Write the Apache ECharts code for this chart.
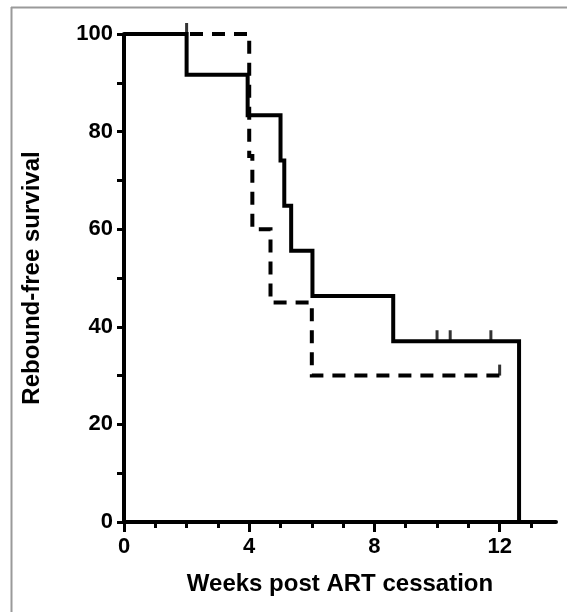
<!DOCTYPE html>
<html>
<head>
<meta charset="utf-8">
<script src="https://cdn.jsdelivr.net/npm/echarts@6/dist/echarts.min.js"></script>
<style>
  html, body { margin: 0; padding: 0; background: #fff; }
  #chart { width: 567px; height: 612px; }
</style>
</head>
<body>
<div id="chart"></div>
<script>
// Kaplan-Meier curves, values
const solidWeeks = [0, 2, 3.95, 5.0, 5.12, 5.34, 6.02, 8.6, 12.62];
const solidSurvival = [100, 91.67, 83.33, 74.07, 64.81, 55.56, 46.3, 37.04, 0];
const dashedWeeks = [0, 4.0, 4.1, 4.68, 6.0, 12.0];
const dashedSurvival = [100, 75, 60, 45, 30, 30];

// censored subjects (little upward ticks)
const solidCensorWeeks = [2, 10.0, 10.42, 11.72];
const solidCensorSurvival = [100, 37.04, 37.04, 37.04];
const dashedCensorWeeks = [12.0];
const dashedCensorSurvival = [30];

const xMajorTicks = [0, 4, 8, 12];
const xMinorTicks = [1, 2, 3, 5, 6, 7, 9, 10, 11, 13];

function pairs(xs, ys) {
  return xs.map((x, i) => [x, ys[i]]);
}

let chart = echarts.init(document.getElementById("chart"));
const font = "'Liberation Sans', Arial, sans-serif";

let option = {
  animation: false,
  grid: { left: 124, right: 11, top: 34, bottom: 90 },
  xAxis: [
    {
      type: "value",
      min: 0,
      max: 13.8,
      splitLine: { show: false },
      axisLine: { show: true, onZero: false, lineStyle: { color: "#000", width: 4 } },
      axisTick: { show: true, customValues: xMinorTicks, length: 6, lineStyle: { color: "#000", width: 3 } },
      axisLabel: {
        customValues: xMajorTicks,
        color: "#000",
        fontFamily: font,
        fontWeight: "bold",
        fontSize: 22,
        margin: 14
      },
      name: "Weeks post ART cessation",
      nameLocation: "middle",
      nameGap: 50,
      nameTextStyle: { color: "#000", fontFamily: font, fontWeight: "bold", fontSize: 24 }
    },
    {
      // longer ticks at the labelled weeks
      type: "value",
      position: "bottom",
      min: 0,
      max: 13.8,
      splitLine: { show: false },
      axisLine: { show: false },
      axisLabel: { show: false },
      axisTick: { show: true, customValues: xMajorTicks, length: 10, lineStyle: { color: "#000", width: 3 } }
    }
  ],
  yAxis: {
    type: "value",
    min: 0,
    max: 100,
    interval: 20,
    splitLine: { show: false },
    axisLine: { show: true, lineStyle: { color: "#000", width: 4 } },
    axisTick: { show: true, length: 7, lineStyle: { color: "#000", width: 3 } },
    minorTick: { show: true, splitNumber: 2, length: 7, lineStyle: { color: "#000", width: 3 } },
    axisLabel: {
      color: "#000",
      fontFamily: font,
      fontWeight: "bold",
      fontSize: 22,
      margin: 11
    },
    name: "Rebound-free survival",
    nameLocation: "middle",
    nameGap: 80,
    nameTextStyle: { color: "#000", fontFamily: font, fontWeight: "bold", fontSize: 24 }
  },
  series: [
    {
      name: "dashed",
      type: "line",
      step: "end",
      symbol: "none",
      data: pairs(dashedWeeks, dashedSurvival),
      lineStyle: { color: "#000", width: 4, type: [13, 9], cap: "butt", join: "miter" },
      z: 3
    },
    {
      name: "solid",
      type: "line",
      step: "end",
      symbol: "none",
      data: pairs(solidWeeks, solidSurvival),
      lineStyle: { color: "#000", width: 4, cap: "butt", join: "miter" },
      z: 4
    },
    {
      name: "censored",
      type: "scatter",
      symbol: "rect",
      symbolSize: [3, 11],
      symbolOffset: [0, -5.5],
      itemStyle: { color: "#000" },
      data: pairs(solidCensorWeeks, solidCensorSurvival).concat(pairs(dashedCensorWeeks, dashedCensorSurvival)),
      clip: false,
      z: 5
    }
  ],
  graphic: [
    { type: "line", shape: { x1: 11.5, y1: 7, x2: 11.5, y2: 612 }, style: { stroke: "#9a9a9a", lineWidth: 2 } },
    { type: "line", shape: { x1: 11, y1: 7.5, x2: 567, y2: 7.5 }, style: { stroke: "#9a9a9a", lineWidth: 2 } }
  ]
};

chart.setOption(option);
</script>
</body>
</html>
